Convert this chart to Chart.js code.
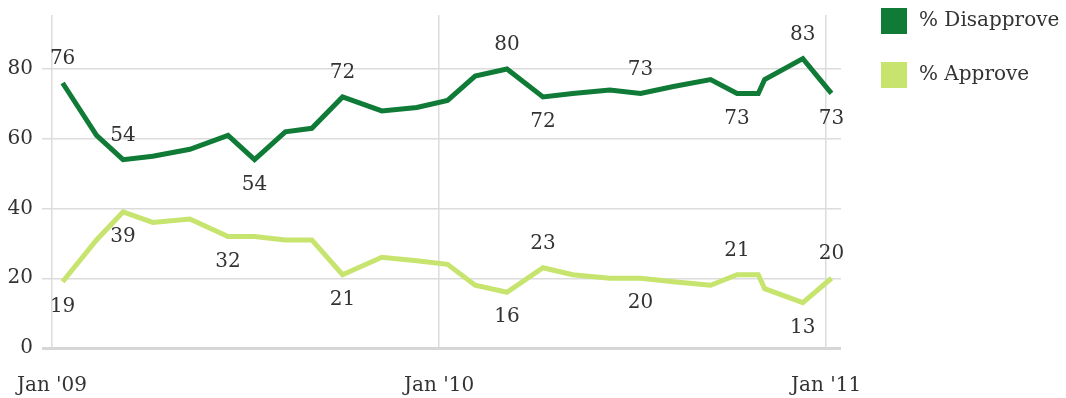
<!DOCTYPE html>
<html>
<head>
<meta charset="utf-8">
<script src="https://cdn.jsdelivr.net/npm/chart.js@4/dist/chart.umd.min.js"></script>
<style>
  html, body { margin: 0; padding: 0; background: #fff; }
  #wrap { width: 1066px; height: 398px; }
</style>
</head>
<body>
<div id="wrap"><canvas id="approvalChart"></canvas></div>
<script>
// poll dates and results
let pollDates = [
    "2009-01-11", "2009-02-12", "2009-03-09", "2009-04-06", "2009-05-11", "2009-06-16",
    "2009-07-11", "2009-08-09", "2009-09-03", "2009-10-02", "2009-11-08", "2009-12-11",
    "2010-01-09", "2010-02-04", "2010-03-06", "2010-04-09", "2010-05-07", "2010-06-11",
    "2010-07-10", "2010-08-10", "2010-09-14", "2010-10-09", "2010-10-29", "2010-11-04",
    "2010-12-10", "2011-01-06"
]
let disapprove = [76, 61, 54, 55, 57, 61, 54, 62, 63, 72, 68, 69,
                  71, 78, 80, 72, 73, 74, 73, 75, 77, 73, 73, 77, 83, 73]
let approve = [19, 31, 39, 36, 37, 32, 32, 31, 31, 21, 26, 25,
               24, 18, 16, 23, 21, 20, 20, 19, 18, 21, 21, 17, 13, 20]
let xTickDates = ["2009-01-01", "2010-01-01", "2011-01-01"]
let xTickLabels = ["Jan '09", "Jan '10", "Jan '11"]
let yTicks = [0, 20, 40, 60, 80]

// which points get a value printed, and on which side of the line
let disapproveAbove = [0, 2, 9, 14, 18, 24]
let disapproveBelow = [6, 15, 21, 25]
let approveAbove = [15, 21, 25]
let approveBelow = [0, 2, 5, 9, 14, 18, 24]

let dayMs = 24 * 3600 * 1000
let start = Date.parse("2009-01-01")
let toDay = d => Math.round((Date.parse(d) - start) / dayMs)
let xEnd = toDay("2011-01-15")

let darkGreen = "#0f7b37"
let lightGreen = "#c6e46e"
let font = "DejaVu Serif"
let fontSize = 20
let textColor = "#333"

let pts = vals => vals.map((v, i) => ({ x: toDay(pollDates[i]), y: v }))

// no extra padding around the axes, the plot area is set by the layout
let noPad = s => { s.paddingLeft = 0; s.paddingRight = 0; s.paddingTop = 0; s.paddingBottom = 0 }

let valueLabels = {
    id: "valueLabels",
    afterDatasetsDraw(chart) {
        let ctx = chart.ctx
        let sets = [[disapproveAbove, disapproveBelow], [approveAbove, approveBelow]]
        ctx.save()
        ctx.font = fontSize + "px '" + font + "'"
        ctx.fillStyle = textColor
        ctx.textAlign = "center"
        ctx.textBaseline = "middle"
        sets.forEach((s, di) => {
            let meta = chart.getDatasetMeta(di)
            let vals = chart.data.datasets[di].data
            s[0].forEach(i => ctx.fillText(vals[i].y, meta.data[i].x, meta.data[i].y - 24))
            s[1].forEach(i => ctx.fillText(vals[i].y, meta.data[i].x, meta.data[i].y + 25))
        })
        ctx.restore()
    }
}

let sideLegend = {
    id: "sideLegend",
    afterDraw(chart) {
        let ctx = chart.ctx
        ctx.save()
        ctx.font = fontSize + "px '" + font + "'"
        ctx.textBaseline = "middle"
        chart.data.datasets.forEach((ds, i) => {
            let top = 8 + i * 54
            ctx.fillStyle = ds.borderColor
            ctx.fillRect(881, top, 26, 26)
            ctx.fillStyle = textColor
            ctx.fillText(ds.label, 919, top + 13)
        })
        ctx.restore()
    }
}

let chart = new Chart(document.getElementById("approvalChart"), {
    type: "line",
    data: {
        datasets: [{
            label: "% Disapprove",
            data: pts(disapprove),
            borderColor: darkGreen,
            backgroundColor: darkGreen,
            borderWidth: 5,
            pointRadius: 0,
            tension: 0
        }, {
            label: "% Approve",
            data: pts(approve),
            borderColor: lightGreen,
            backgroundColor: lightGreen,
            borderWidth: 5,
            pointRadius: 0,
            tension: 0
        }]
    },
    options: {
        responsive: true,
        maintainAspectRatio: false,
        animation: false,
        layout: { padding: { top: 15, right: 225, left: 0, bottom: 0 } },
        plugins: {
            legend: { display: false },
            tooltip: { enabled: false }
        },
        scales: {
            x: {
                type: "linear",
                min: 0,
                max: xEnd,
                afterBuildTicks: s => { s.ticks = xTickDates.map(d => ({ value: toDay(d) })) },
                afterFit: s => { s.height = 50; noPad(s) },
                grid: { color: "#dcdcdc", lineWidth: 1.5, drawTicks: false },
                border: { display: false },
                ticks: {
                    padding: 26,
                    maxRotation: 0,
                    autoSkip: false,
                    color: textColor,
                    font: { family: font, size: fontSize },
                    callback: (v, i) => xTickLabels[i]
                }
            },
            y: {
                min: 0,
                max: 95.5,
                afterBuildTicks: s => { s.ticks = yTicks.map(v => ({ value: v })) },
                afterFit: s => { s.width = 52; noPad(s) },
                grid: {
                    color: c => c.tick && c.tick.value === 0 ? "#d6d6d6" : "#dcdcdc",
                    lineWidth: c => c.tick && c.tick.value === 0 ? 3 : 1.5,
                    tickLength: 10
                },
                border: { display: false },
                ticks: {
                    padding: 9,
                    color: textColor,
                    font: { family: font, size: fontSize }
                }
            }
        }
    },
    plugins: [valueLabels, sideLegend]
})
</script>
</body>
</html>
